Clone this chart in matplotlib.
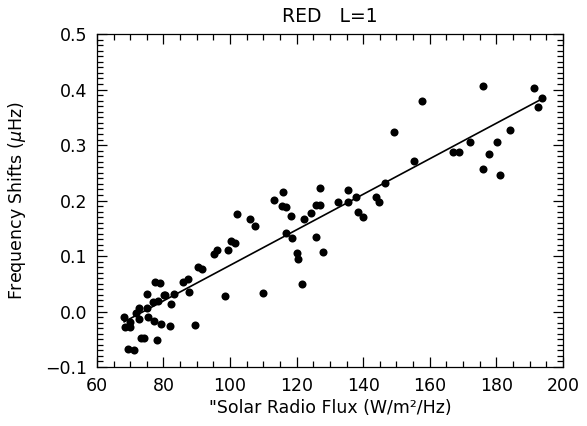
import numpy as np
import matplotlib
matplotlib.use("Agg")
import matplotlib.pyplot as plt
from matplotlib.ticker import MultipleLocator

# solar radio flux vs frequency shift
flux = [68.2, 68.6, 70.1, 69.9, 69.4, 71.3, 71.8, 72.7, 72.8, 73.4,
        74.3, 75.1, 75.2, 75.5, 77.2, 77.0, 77.5, 78.5, 78.2, 78.9,
        79.3, 80.1, 80.6, 82.0, 82.4, 83.3, 86.0, 87.3, 87.6, 89.4,
        90.4, 91.7, 95.1, 96.1, 98.4, 99.5, 100.4, 101.6, 102.0, 106.0,
        107.5, 110.0, 113.2, 115.8, 115.6, 116.7, 116.7, 118.3, 118.7, 120.0,
        120.3, 121.5, 122.1, 124.3, 125.8, 126.9, 127.1, 125.9, 127.9, 132.5,
        135.5, 135.5, 137.7, 138.5, 139.8, 143.9, 144.7, 146.7, 149.2, 155.3,
        157.7, 167.1, 168.7, 172.0, 175.9, 175.9, 177.9, 180.3, 181.1, 184.2,
        191.4, 192.6, 193.6]
shift = [-0.010, -0.028, -0.028, -0.018, -0.068, -0.069, -0.002, 0.007, -0.014, -0.047,
         -0.047, 0.006, 0.032, -0.010, -0.017, 0.018, 0.054, 0.019, -0.052, 0.051,
         -0.022, 0.030, 0.030, -0.026, 0.013, 0.032, 0.053, 0.058, 0.036, -0.025,
         0.081, 0.076, 0.103, 0.111, 0.028, 0.110, 0.127, 0.124, 0.176, 0.167,
         0.154, 0.034, 0.201, 0.216, 0.190, 0.189, 0.142, 0.173, 0.132, 0.105,
         0.095, 0.050, 0.167, 0.178, 0.192, 0.192, 0.222, 0.135, 0.107, 0.198,
         0.219, 0.198, 0.207, 0.180, 0.170, 0.207, 0.197, 0.232, 0.323, 0.271,
         0.379, 0.288, 0.288, 0.306, 0.407, 0.257, 0.284, 0.306, 0.246, 0.328,
         0.403, 0.368, 0.385]
y_labels = ["\u22120.1", "0.0", "0.1", "0.2", "0.3", "0.4", "0.5"]

x = np.array(flux)
y = np.array(shift)
coef = np.polyfit(x, y, 1)
xfit = np.array([x.min(), x.max()])

plt.rcParams["font.family"] = "DejaVu Sans"
fig = plt.figure(figsize=(5.87, 4.26), dpi=100)
ax = fig.add_axes([0.165, 0.1385, 0.794, 0.7815])

ax.plot(x, y, "o", color="black", ms=5.8, mec="none")
ax.plot(xfit, np.polyval(coef, xfit), color="black", lw=1.2)

ax.set_xlim(60, 200)
ax.set_ylim(-0.1, 0.5)
ax.xaxis.set_major_locator(MultipleLocator(20))
ax.xaxis.set_minor_locator(MultipleLocator(5))
ax.yaxis.set_minor_locator(MultipleLocator(0.01))
ax.set_yticks(np.arange(-0.1, 0.51, 0.1))
ax.set_yticklabels(y_labels)
ax.tick_params(which="both", direction="in", top=True, right=True,
               labelsize=12.5, width=0.9)
ax.tick_params(which="major", length=7, pad=7)
ax.tick_params(which="minor", length=4)
for s in ax.spines.values():
    s.set_linewidth(0.9)

ax.set_title("RED   L=1", fontsize=13.5, pad=9)
ax.set_xlabel("\"Solar Radio Flux (W/m\u00b2/Hz)", fontsize=12.5, labelpad=3)
ax.set_ylabel("Frequency Shifts ($\\mu$Hz)", fontsize=12.5, labelpad=12)

fig.savefig("out.png", dpi=100)
